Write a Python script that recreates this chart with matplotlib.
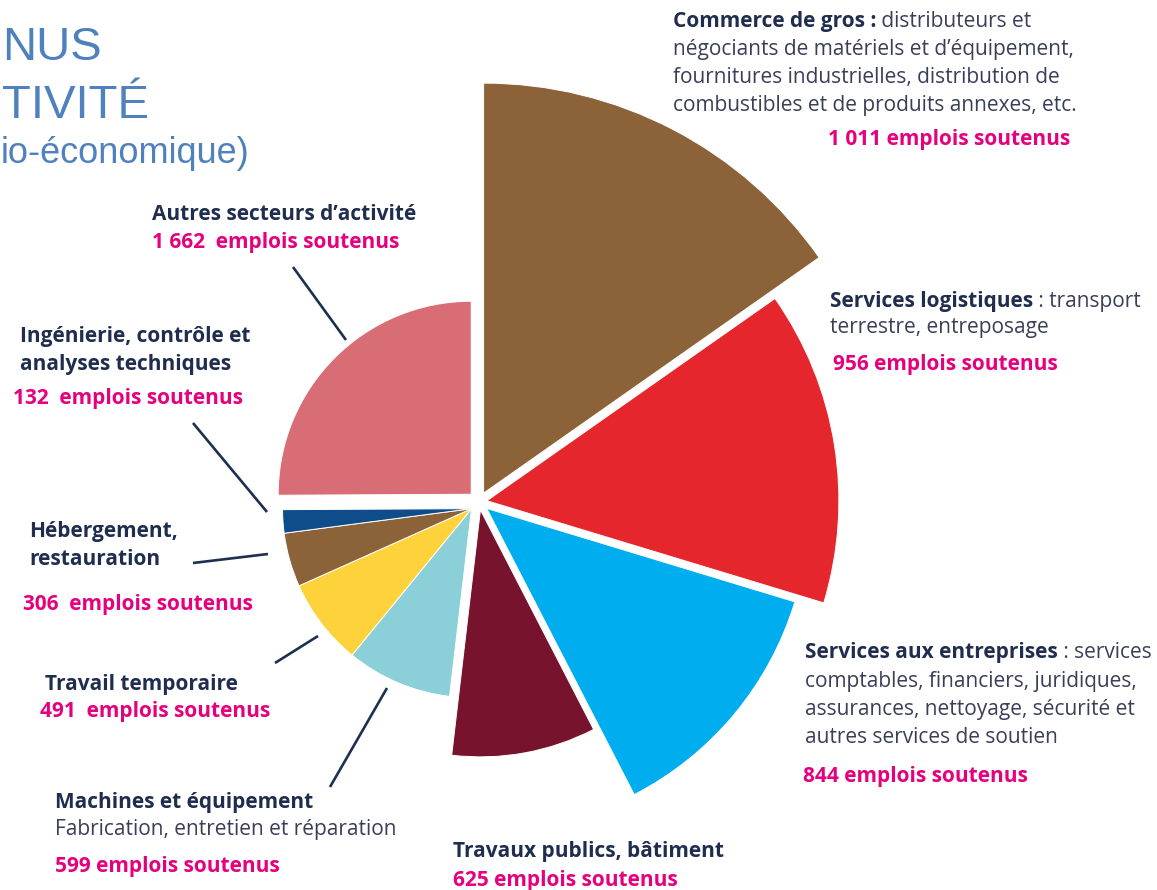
import numpy as np
import matplotlib
matplotlib.use("Agg")
import matplotlib.pyplot as plt
from matplotlib.patches import Wedge

# ---------------- data ----------------
sectors = ["Commerce de gros", "Services logistiques", "Services aux entreprises",
           "Travaux publics, bâtiment", "Machines et équipement", "Travail temporaire",
           "Hébergement, restauration", "Ingénierie, contrôle et analyses techniques",
           "Autres secteurs d'activité"]
emplois = [1011, 956, 844, 625, 599, 491, 306, 132, 1662]
rayon = [410, 352, 322, 247, 189, 189, 189, 189, 193]     # visual radius of each wedge
couleurs = ["#8C6239", "#E5272D", "#00AEEF", "#78132E", "#8BD0D8",
            "#FDD23A", "#8C6239", "#0F4C8A", "#D86D76"]
groupe = [0, 1, 2, 3, 4, 4, 4, 4, 5]                      # wedges sharing an apex
ecart = [10, 8, 10, 8, 10, 11]                            # explode distance per group

W, H = 1157, 890
fig = plt.figure(figsize=(W / 100, H / 100), dpi=100)
ax = fig.add_axes([0, 0, 1, 1])
ax.set_xlim(0, W)
ax.set_ylim(0, H)
ax.set_aspect("equal")
ax.axis("off")

def Y(y):
    return H - y

# ---------------- wedges ----------------
cx, cy = 479, Y(502)
total = sum(emplois)
deg = 360.0 / total
t2 = [90 - deg * sum(emplois[:i]) for i in range(len(emplois))]
t1 = [t2[i] - deg * emplois[i] for i in range(len(emplois))]

gb = {}
for g in set(groupe):
    idx = [i for i in range(len(groupe)) if groupe[i] == g]
    lo = min(t1[i] for i in idx)
    hi = max(t2[i] for i in idx)
    gb[g] = np.deg2rad((lo + hi) / 2)

for i, v in enumerate(emplois):
    g = groupe[i]
    ox = cx + ecart[g] * np.cos(gb[g])
    oy = cy + ecart[g] * np.sin(gb[g])
    ax.add_patch(Wedge((ox, oy), rayon[i], t1[i], t2[i], facecolor=couleurs[i],
                       edgecolor="white", linewidth=0.7))

# ---------------- text ----------------
FONT = ["Open Sans", "DejaVu Sans"]
NAVY = "#1F2D4E"
GREY = "#3A3F58"
PINK = "#E5007E"
FS = 15.0

def fmt(v):
    return f"{v:,}".replace(",", " ")

def line(x, y, bold, regular=None, color=NAVY):
    t = ax.text(x, Y(y), bold, fontsize=FS, fontweight="bold", color=color,
                family=FONT, va="baseline", ha="left")
    if regular:
        ax.annotate(regular, xy=(1, 0), xycoords=t, fontsize=FS, color=GREY,
                    family=FONT, va="bottom", ha="left")
    return t

def plain(x, y, s):
    ax.text(x, Y(y), s, fontsize=FS, color=GREY, family=FONT, va="baseline", ha="left")

def pink(x, y, s):
    ax.text(x, Y(y), s, fontsize=FS, fontweight="bold", color=PINK, family=FONT,
            va="baseline", ha="left")

# Commerce de gros
line(673, 27, "Commerce de gros :", " distributeurs et")
plain(673, 55, "négociants de matériels et d’équipement,")
plain(673, 83, "fournitures industrielles, distribution de")
plain(673, 111, "combustibles et de produits annexes, etc.")
pink(828, 145, f"{fmt(emplois[0])} emplois soutenus")

# Services logistiques
line(830, 307, "Services logistiques", " : transport")
plain(830, 333, "terrestre, entreposage")
pink(833, 370, f"{fmt(emplois[1])} emplois soutenus")

# Services aux entreprises
line(805, 658, "Services aux entreprises", " : services")
plain(805, 687, "comptables, financiers, juridiques,")
plain(805, 715, "assurances, nettoyage, sécurité et")
plain(805, 743, "autres services de soutien")
pink(803, 782, f"{fmt(emplois[2])} emplois soutenus")

# Travaux publics
line(453, 857, "Travaux publics, bâtiment")
pink(453, 886, f"{fmt(emplois[3])} emplois soutenus")

# Machines
line(55, 808, "Machines et équipement")
plain(55, 835, "Fabrication, entretien et réparation")
pink(55, 872, f"{fmt(emplois[4])} emplois soutenus")

# Travail temporaire
line(45, 690, "Travail temporaire")
pink(40, 717, f"{fmt(emplois[5])}  emplois soutenus")

# Hébergement
line(29, 537, "Hébergement,")
line(29, 565, "restauration")
pink(23, 610, f"{fmt(emplois[6])}  emplois soutenus")

# Ingénierie
line(20, 342, "Ingénierie, contrôle et")
line(20, 370, "analyses techniques")
pink(13, 404, f"{fmt(emplois[7])}  emplois soutenus")

# Autres
line(152, 220, "Autres secteurs d’activité")
pink(152, 248, f"{fmt(emplois[8])}  emplois soutenus")

# leader lines
leaders = [((293, 267), (346, 340)),
           ((193, 423), (267, 512)),
           ((193, 563), (268, 554)),
           ((275, 663), (318, 636)),
           ((330, 787), (387, 688))]
for (x0, y0), (x1, y1) in leaders:
    ax.plot([x0, x1], [Y(y0), Y(y1)], color="#1D3050", linewidth=1.9,
            solid_capstyle="butt")

# title fragments (cut at the left edge in the reference)
TB = "#4F81BD"
TF = ["Liberation Sans", "DejaVu Sans"]
ax.text(2, Y(60), "NUS", fontsize=34, color=TB, family=TF, ha="left", va="baseline")
ax.text(2, Y(118), "TIVITÉ", fontsize=34, color=TB, family=TF, ha="left", va="baseline")
ax.text(1, Y(163), "io-économique)", fontsize=26, color=TB, family=TF, ha="left",
        va="baseline")

fig.savefig("out.png", dpi=100)
